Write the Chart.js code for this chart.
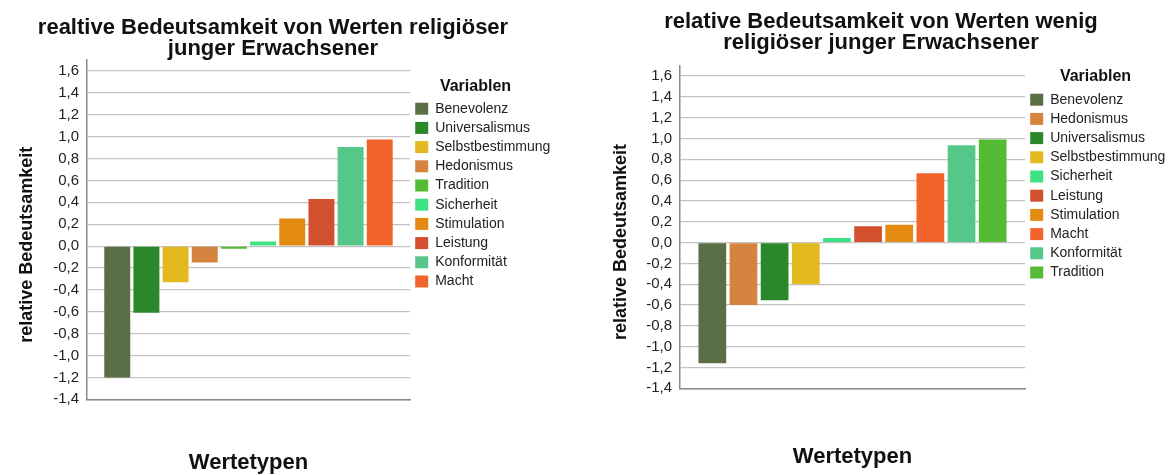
<!DOCTYPE html>
<html>
<head>
<meta charset="utf-8">
<script src="https://cdn.jsdelivr.net/npm/chart.js@4/dist/chart.umd.min.js"></script>
<style>
  html, body { margin: 0; padding: 0; background: #fff; width: 1171px; height: 475px; overflow: hidden; }
  .box { position: absolute; top: 0; height: 475px; }
  #boxL { left: -15px; width: 576px; }
  #boxR { left: 591px; width: 580px; }
</style>
</head>
<body>
<div class="box" id="boxL"><canvas id="chartL"></canvas></div>
<div class="box" id="boxR"><canvas id="chartR"></canvas></div>
<script>
// ---- data ----
const leftTitle = ['realtive Bedeutsamkeit von Werten religiöser', 'junger Erwachsener'];
const leftCategories = ['Benevolenz', 'Universalismus', 'Selbstbestimmung', 'Hedonismus', 'Tradition', 'Sicherheit', 'Stimulation', 'Leistung', 'Konformität', 'Macht'];
const leftValues = [-1.20, -0.61, -0.33, -0.15, -0.025, 0.043, 0.253, 0.43, 0.905, 0.975];

const rightTitle = ['relative Bedeutsamkeit von Werten wenig', 'religiöser junger Erwachsener'];
const rightCategories = ['Benevolenz', 'Hedonismus', 'Universalismus', 'Selbstbestimmung', 'Sicherheit', 'Leistung', 'Stimulation', 'Macht', 'Konformität', 'Tradition'];
const rightValues = [-1.16, -0.60, -0.555, -0.40, 0.045, 0.157, 0.17, 0.666, 0.935, 0.99];

const yTickValues = [-1.4, -1.2, -1.0, -0.8, -0.6, -0.4, -0.2, 0.0, 0.2, 0.4, 0.6, 0.8, 1.0, 1.2, 1.4, 1.6];
const yTickLabels = ['-1,4', '-1,2', '-1,0', '-0,8', '-0,6', '-0,4', '-0,2', '0,0', '0,2', '0,4', '0,6', '0,8', '1,0', '1,2', '1,4', '1,6'];
const yAxisTitle = 'relative Bedeutsamkeit';
const xAxisTitle = 'Wertetypen';
const legendTitle = 'Variablen';

// ---- styles ----
const varColors = {
  'Benevolenz': '#5b6f47',
  'Universalismus': '#2a882a',
  'Selbstbestimmung': '#e2b91e',
  'Hedonismus': '#d4843f',
  'Tradition': '#55bb35',
  'Sicherheit': '#3ee282',
  'Stimulation': '#e38a12',
  'Leistung': '#d3502e',
  'Konformität': '#56c789',
  'Macht': '#f2652a'
};
const FONT = "'Liberation Sans', Arial, Helvetica, sans-serif";

// let long legend labels run past the legend box (as in the original)
const noLegendClip = {
  id: 'noLegendClip',
  afterInit(chart) {
    const lg = chart.legend;
    if (lg && typeof lg._draw === 'function') {
      lg.draw = function () { if (this.options.display) this._draw(); };
    }
  }
};

function makeChart(canvasId, cfg) {
  const datasets = cfg.categories.map((c, i) => ({
    label: c,
    data: [cfg.values[i]],
    backgroundColor: varColors[c],
    borderWidth: 0
  }));
  return new Chart(document.getElementById(canvasId), {
    type: 'bar',
    data: { labels: [''], datasets },
    plugins: [noLegendClip],
    options: {
      responsive: true,
      maintainAspectRatio: false,
      animation: false,
      devicePixelRatio: 1,
      categoryPercentage: 0.903,
      barPercentage: 0.89,
      layout: { padding: { left: cfg.padX, right: cfg.padX, top: 0, bottom: 0 } },
      plugins: {
        tooltip: { enabled: false },
        title: {
          display: true,
          text: cfg.title,
          color: '#111',
          font: { family: FONT, size: 22, weight: 'bold', lineHeight: '21px' },
          padding: { top: cfg.titlePadTop, bottom: cfg.titlePadBottom }
        },
        legend: {
          display: true,
          position: 'right',
          align: 'start',
          fullSize: false,
          maxWidth: cfg.legendWidth,
          title: {
            display: true,
            text: legendTitle,
            color: '#111',
            font: { family: FONT, size: 16, weight: 'bold', lineHeight: 1 },
            padding: { top: cfg.legTitlePadTop, bottom: cfg.legTitlePadBottom }
          },
          labels: {
            color: '#222',
            font: { family: FONT, size: 14 },
            boxWidth: 13,
            boxHeight: 12,
            padding: 5.2
          }
        }
      },
      scales: {
        x: {
          grid: { display: false },
          border: { display: true, color: '#8a8a8a', width: 1.5 },
          ticks: { display: false },
          title: {
            display: true,
            text: xAxisTitle,
            color: '#111',
            font: { family: FONT, size: 22, weight: 'bold', lineHeight: 1 },
            padding: { top: 0, bottom: cfg.xTitlePadBottom }
          },
          afterFit: (scale) => { scale.height = cfg.xAxisHeight; }
        },
        y: {
          min: -1.4,
          max: 1.7,
          afterBuildTicks: (scale) => { scale.ticks = yTickValues.map(v => ({ value: v })); },
          ticks: {
            color: '#222',
            font: { family: FONT, size: 15 },
            padding: 8,
            callback: (value, index) => yTickLabels[index]
          },
          grid: { color: '#c3c3c3', lineWidth: 1.2, drawTicks: false },
          border: { display: true, color: '#8a8a8a', width: 1.5 },
          title: {
            display: true,
            text: yAxisTitle + '      ',
            color: '#111',
            font: { family: FONT, size: 18, weight: 'bold' },
            padding: { top: cfg.yTitlePad, bottom: 0 }
          },
          afterFit: (scale) => { scale.width = cfg.yAxisWidth; }
        }
      }
    }
  });
}

makeChart('chartL', {
  title: leftTitle, categories: leftCategories, values: leftValues,
  padX: 20, titlePadTop: 17, titlePadBottom: 1.1,
  legendWidth: 131, legTitlePadTop: 18.9, legTitlePadBottom: 1.5,
  xTitlePadBottom: 1, xAxisHeight: 75.7, yTitlePad: 11, yAxisWidth: 82
});

makeChart('chartR', {
  title: rightTitle, categories: rightCategories, values: rightValues,
  padX: 5, titlePadTop: 11.9, titlePadBottom: 11.7,
  legendWidth: 141, legTitlePadTop: 3.4, legTitlePadBottom: 2.5,
  xTitlePadBottom: 7, xAxisHeight: 86.7, yTitlePad: 14.2, yAxisWidth: 84
});
</script>
</body>
</html>
